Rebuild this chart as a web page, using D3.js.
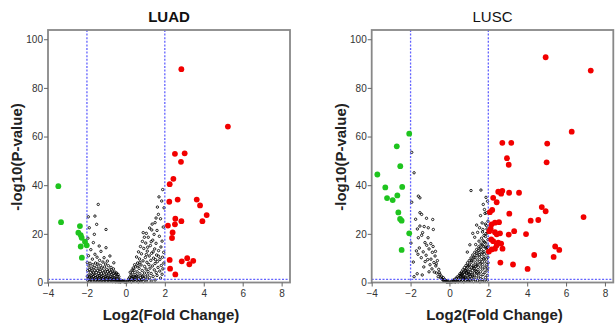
<!DOCTYPE html>
<html>
<head>
<meta charset="utf-8">
<script src="https://cdn.jsdelivr.net/npm/d3@7"></script>
<style>
  body { margin: 0; background: #fff; }
  svg { display: block; font-family: "Liberation Sans", Arial, sans-serif; }
</style>
</head>
<body>
<div id="chart"></div>
<script>
// panel titles and axis ticks
const panels = ['LUAD', 'LUSC'];
const xTicks = [-4, -2, 0, 2, 4, 6, 8];
const yTicks = [0, 20, 40, 60, 80, 100];
const fcCut = [-2, 2];
const pCut = 1.3;

// LUAD: down-regulated (green), up-regulated (red), not significant (black)
const luadDown = [[-3.47, 39.6], [-3.33, 24.8], [-2.36, 23.2], [-2.44, 20.5], [-2.32, 19.5], [-2.27, 18.4],
  [-2.10, 16.8], [-2.01, 15.3], [-2.32, 14.8], [-2.26, 10.2]];
const luadUp = [[2.85, 87.7], [5.24, 64.1], [2.52, 52.9], [3.02, 53.1], [2.83, 49.6], [2.44, 42.6], [2.25, 40.4],
  [2.23, 33.2], [2.66, 34.1], [3.64, 34.1], [3.81, 31.7], [4.15, 27.7], [3.93, 25.2], [2.54, 26.2], [2.85, 25.2],
  [2.52, 23.9], [2.16, 23.4], [2.40, 20.6], [2.37, 18.3], [2.25, 9.3], [2.87, 8.7], [3.15, 10.0], [3.46, 8.9],
  [3.26, 7.5], [2.27, 5.7], [2.54, 3.3]];
const luadNs = [
  [-1.42, 32.1], [-1.93, 27.0], [-1.59, 27.3], [-1.50, 23.9], [-1.02, 21.8], [-1.62, 19.8], [-1.88, 22.5],
  [-1.37, 15.0], [-1.02, 14.3], [-1.67, 16.4], [-1.59, 11.6], [-0.82, 10.9], [-1.95, 18.2], [-1.80, 13.5],
  [-1.28, 12.8], [-1.12, 10.2], [-1.72, 9.6], [-1.48, 10.4], [-0.95, 8.8], [-1.92, 11.0], [-0.62, 8.1], [-1.35, 9.1],
  [-1.98, 8.2], [-1.90, 6.8], [-1.84, 7.9], [-1.78, 5.9], [-1.70, 7.3], [-1.64, 6.1], [-1.56, 8.0], [-1.50, 6.5],
  [-1.44, 7.6], [-1.38, 5.6], [-1.30, 7.0], [-1.24, 6.0], [-1.18, 8.4], [-1.10, 6.4], [-1.04, 7.6], [-0.98, 5.4],
  [-0.90, 6.9], [-0.84, 5.1], [-0.76, 6.2], [-0.70, 4.7], [-0.64, 5.6], [-0.56, 4.3], [-0.48, 3.9], [-0.40, 3.3],
  [-1.96, 4.9], [-1.88, 5.3], [-1.82, 4.2], [-1.74, 4.8], [-1.66, 3.9], [-1.60, 5.0], [-1.52, 4.1], [-1.46, 4.9],
  [-1.40, 3.7], [-1.32, 4.5], [-1.26, 3.6], [-1.20, 4.9], [-1.14, 3.9], [-1.06, 4.7], [-1.00, 3.5], [-0.94, 4.4],
  [-0.86, 3.6], [-0.80, 4.2], [-0.72, 3.2], [-0.66, 3.8], [-0.58, 2.9], [-0.52, 3.4], [-0.44, 2.6], [-0.36, 2.4],
  [-1.98, 2.6], [-1.94, 1.8], [-1.90, 3.1], [-1.86, 2.2], [-1.82, 1.5], [-1.78, 2.8], [-1.74, 1.9], [-1.70, 3.2],
  [-1.66, 2.4], [-1.62, 1.6], [-1.58, 2.9], [-1.54, 2.0], [-1.50, 1.4], [-1.46, 2.6], [-1.42, 1.8], [-1.38, 2.9],
  [-1.34, 2.1], [-1.30, 1.5], [-1.26, 2.5], [-1.22, 1.7], [-1.18, 2.8], [-1.14, 2.0], [-1.10, 1.3], [-1.06, 2.4],
  [-1.02, 1.6], [-0.98, 2.7], [-0.94, 1.9], [-0.90, 1.2], [-0.86, 2.2], [-0.82, 1.5], [-0.78, 2.5], [-0.74, 1.7],
  [-0.70, 1.1], [-0.66, 2.0], [-0.62, 1.3], [-0.58, 1.8], [-0.54, 1.1], [-0.50, 1.6], [-0.46, 0.9], [-0.42, 1.4],
  [-0.38, 0.8], [-0.34, 1.2], [-0.30, 0.6], [-0.26, 0.9], [-0.22, 0.5], [-0.18, 0.7], [-0.14, 0.4], [-0.10, 0.5],
  [-0.06, 0.3], [-0.02, 0.2], [-1.96, 0.9], [-1.88, 0.6], [-1.80, 1.0], [-1.72, 0.7], [-1.64, 1.1], [-1.56, 0.8],
  [-1.48, 0.6], [-1.40, 1.0], [-1.32, 0.7], [-1.24, 0.9], [-1.16, 0.6], [-1.08, 0.8], [-1.00, 0.5], [-0.92, 0.7],
  [-0.84, 0.5], [-0.76, 0.6], [-0.68, 0.4], [-0.60, 0.5], [-0.52, 0.3], [-0.44, 0.4], [-0.36, 0.3], [-0.28, 0.2],
  [1.89, 38.2], [1.96, 30.7], [1.67, 28.0], [1.50, 24.6], [1.33, 21.6], [0.89, 20.5], [1.84, 33.5], [1.78, 26.2],
  [1.92, 22.8], [1.60, 21.4], [1.45, 19.8], [1.72, 19.0], [1.15, 18.6], [1.38, 17.4], [1.86, 17.0], [1.02, 16.2],
  [1.55, 16.1], [1.26, 15.2], [1.80, 14.6], [0.92, 14.0], [1.48, 13.8], [1.68, 13.1], [1.10, 12.9], [1.94, 12.4],
  [1.32, 12.0], [0.80, 11.8], [1.58, 11.3], [1.20, 10.9], [1.88, 10.4], [1.00, 10.3], [1.42, 10.0], [0.70, 9.7],
  [1.75, 9.5], [1.28, 9.1], [0.88, 8.9], [1.62, 8.6], [1.08, 8.3], [1.95, 8.0], [0.60, 8.0], [1.50, 7.8],
  [1.18, 7.4], [0.78, 7.2], [1.82, 7.0], [1.36, 6.8], [0.96, 6.6], [0.50, 6.4], [1.65, 6.2], [1.24, 5.9],
  [0.68, 5.8], [1.90, 5.6], [1.04, 5.5], [1.46, 5.2], [0.42, 5.0], [0.84, 4.9], [1.74, 4.7], [1.14, 4.5],
  [0.58, 4.4], [1.56, 4.1], [0.34, 4.0], [0.96, 3.9], [1.30, 3.7], [0.72, 3.6], [1.86, 3.4], [0.48, 3.3],
  [1.12, 3.1], [0.26, 3.0], [1.60, 2.9], [0.86, 2.8], [0.62, 2.6], [1.40, 2.5], [0.38, 2.4], [1.00, 2.3],
  [0.20, 2.2], [0.76, 2.1], [1.22, 2.0], [0.52, 1.9], [1.78, 1.8], [0.30, 1.7], [0.92, 1.6], [0.14, 1.5],
  [0.66, 1.5], [1.10, 1.4], [0.44, 1.3], [0.24, 1.1], [0.82, 1.1], [1.50, 1.0], [0.56, 0.9], [0.10, 0.8],
  [0.36, 0.8], [0.74, 0.7], [1.04, 0.6], [0.18, 0.5], [0.48, 0.5], [0.64, 0.3], [0.06, 0.3], [0.28, 0.3],
  [0.90, 0.4], [1.30, 0.6], [0.55, 10.5], [0.65, 12.6], [0.75, 14.8], [0.85, 16.9], [0.95, 18.6], [1.05, 20.2],
  [1.22, 22.4], [1.35, 24.0], [1.55, 26.5], [1.62, 31.0], [1.70, 35.2], [1.52, 9.4], [1.68, 10.8], [1.40, 12.6],
  [1.12, 14.5], [1.30, 16.8], [1.05, 11.5], [0.62, 6.9], [0.72, 8.3], [0.45, 7.3], [0.38, 6.0], [0.32, 5.1],
  [0.22, 4.2], [0.40, 1.0], [0.54, 2.7], [0.70, 0.9], [0.84, 2.4], [0.16, 1.0], [0.32, 2.3], [0.46, 2.1]];

// LUSC
const luscDown = [[-2.07, 61.2], [-2.71, 56.0], [-2.53, 47.8], [-3.71, 44.4], [-3.30, 39.1], [-2.43, 39.3],
  [-3.21, 34.7], [-2.92, 33.9], [-2.68, 35.8], [-2.63, 28.8], [-2.54, 26.1], [-2.46, 25.4], [-2.07, 20.2],
  [-2.46, 13.4]];
const luscUp = [[4.95, 92.6], [7.27, 87.1], [6.29, 62.0], [2.72, 57.4], [3.18, 57.4], [5.03, 57.1], [2.96, 51.1],
  [3.05, 48.4], [5.00, 49.4], [2.51, 37.3], [2.72, 37.7], [2.66, 36.5], [3.07, 36.9], [3.58, 36.9], [2.25, 34.8],
  [2.43, 33.0], [2.08, 28.9], [2.20, 29.8], [3.08, 28.3], [4.75, 31.0], [4.95, 29.3], [4.18, 25.4], [4.57, 25.7],
  [6.90, 26.9], [2.34, 24.6], [2.55, 24.8], [2.17, 23.9], [2.12, 22.1], [2.05, 21.1], [2.34, 20.7], [2.60, 20.2],
  [2.43, 19.8], [3.33, 21.1], [3.05, 19.7], [3.94, 19.9], [2.15, 17.7], [2.25, 17.0], [2.51, 16.4], [2.43, 15.3],
  [2.66, 16.0], [2.17, 13.6], [2.03, 12.7], [2.34, 13.9], [2.73, 13.9], [5.44, 14.8], [5.65, 13.4], [5.36, 10.5],
  [4.36, 11.3], [2.62, 8.2], [3.27, 7.4], [4.02, 5.6]];
const luscNs = [
  [-1.94, 53.5], [-1.82, 45.1], [-1.94, 33.0], [-1.60, 35.5], [-1.52, 34.8], [-1.43, 28.0], [-1.52, 28.7],
  [-0.86, 25.9], [-1.09, 22.5], [-1.52, 23.2], [-1.30, 23.0], [-1.60, 18.4], [-1.26, 16.4], [-1.43, 19.4],
  [-0.83, 21.8], [-1.17, 15.3], [-0.74, 10.9], [-1.86, 8.4], [-1.70, 13.0], [-1.55, 14.2], [-1.35, 12.6],
  [-1.20, 11.2], [-1.05, 13.8], [-0.95, 9.6], [-1.45, 10.2], [-1.62, 11.6], [-1.12, 9.4], [-0.88, 12.4],
  [-0.80, 8.2], [-1.00, 7.3], [-1.25, 8.6], [-0.70, 6.8], [-0.62, 9.0], [-0.90, 5.6], [-1.32, 6.4], [-1.82, 2.4],
  [-1.66, 3.6], [-0.55, 5.4], [-0.78, 4.3], [-0.66, 3.9], [-0.49, 3.4], [-0.32, 2.0], [-0.42, 2.6], [-0.58, 2.4],
  [-1.05, 4.4], [-1.40, 3.1], [-0.25, 1.3], [-0.18, 0.8], [-0.10, 0.5], [-0.38, 1.5], [-0.30, 0.9], [-0.22, 0.5],
  [-0.15, 0.3], [-0.05, 0.2], [-1.98, 16.2], [-1.74, 26.0], [-1.65, 22.0], [-1.38, 20.5], [-1.10, 18.4],
  [-0.96, 16.0], [-1.18, 26.4], [-0.72, 12.8], [-0.84, 14.8], [-0.68, 7.7], [-0.52, 4.1], [-0.45, 1.9],
  [-0.35, 1.2], [-0.28, 0.6], [-0.12, 0.2], [0.02, 0.2],
  [1.11, 37.8], [1.62, 38.0], [1.83, 28.4], [1.74, 32.1], [1.55, 22.5], [1.20, 20.2], [1.91, 28.7], [1.96, 33.4],
  [1.80, 30.0], [1.88, 35.0], [1.68, 24.5], [1.45, 20.6], [1.30, 18.6], [1.98, 25.2], [1.60, 27.5], [1.40, 23.6],
  [1.72, 21.8], [1.85, 24.0], [1.05, 15.5], [0.92, 12.5], [1.93, 22.0],
  [0.10, 0.2], [0.12, 0.6], [0.18, 0.3], [0.20, 0.9], [0.24, 0.4], [0.27, 1.3], [0.30, 0.2], [0.32, 0.8],
  [0.35, 1.7], [0.38, 0.5], [0.40, 2.3], [0.42, 1.1], [0.45, 0.3], [0.47, 1.8], [0.50, 2.9], [0.52, 0.7],
  [0.54, 3.6], [0.56, 1.4], [0.58, 2.4], [0.60, 0.4], [0.62, 4.3], [0.63, 3.1], [0.65, 1.9], [0.67, 0.9],
  [0.69, 5.2], [0.70, 2.6], [0.72, 4.0], [0.74, 0.3], [0.75, 1.5], [0.77, 6.1], [0.78, 3.4], [0.80, 4.8],
  [0.81, 2.1], [0.83, 0.8], [0.85, 7.0], [0.86, 5.6], [0.88, 3.9], [0.89, 1.3], [0.91, 2.8], [0.93, 8.1],
  [0.94, 6.4], [0.96, 4.6], [0.97, 0.5], [0.99, 3.3], [1.00, 1.9], [1.02, 9.0], [1.03, 7.2], [1.05, 5.4],
  [1.06, 2.4], [1.08, 0.9], [1.09, 4.1], [1.11, 10.1], [1.12, 8.3], [1.14, 6.1], [1.15, 1.5], [1.17, 3.2],
  [1.18, 4.9], [1.20, 11.3], [1.21, 9.2], [1.23, 7.0], [1.24, 0.4], [1.26, 2.2], [1.27, 5.8], [1.29, 3.9],
  [1.30, 12.4], [1.31, 10.3], [1.33, 8.1], [1.34, 1.1], [1.36, 6.6], [1.37, 4.5], [1.39, 2.8], [1.40, 13.6],
  [1.41, 11.2], [1.43, 9.3], [1.44, 0.7], [1.46, 7.5], [1.47, 5.3], [1.49, 1.8], [1.50, 3.6], [1.51, 14.7],
  [1.53, 12.4], [1.54, 10.4], [1.56, 8.6], [1.57, 0.3], [1.59, 6.4], [1.60, 4.4], [1.61, 2.5], [1.63, 15.8],
  [1.64, 13.5], [1.66, 11.6], [1.67, 9.5], [1.68, 1.2], [1.70, 7.4], [1.71, 5.5], [1.73, 3.3], [1.74, 17.1],
  [1.75, 14.8], [1.77, 12.7], [1.78, 10.6], [1.79, 0.6], [1.81, 8.5], [1.82, 6.3], [1.83, 4.2], [1.85, 2.0],
  [1.86, 18.9], [1.87, 16.2], [1.89, 13.9], [1.90, 11.8], [1.91, 9.6], [1.92, 7.3], [1.94, 5.1], [1.95, 2.9],
  [1.96, 1.0], [1.97, 20.4], [1.98, 17.6], [1.99, 15.0], [1.97, 12.6], [1.98, 10.4], [1.99, 8.1], [1.97, 6.0],
  [0.66, 3.8], [0.84, 5.0], [0.98, 6.9], [1.13, 9.0], [1.25, 10.4], [1.38, 12.0], [1.48, 13.1], [1.58, 14.2],
  [1.69, 15.4], [1.80, 16.6], [1.88, 20.1], [0.73, 2.0], [0.90, 4.3], [1.04, 3.5], [1.19, 2.7], [1.32, 5.1],
  [1.45, 4.0], [1.62, 8.0], [1.76, 9.7], [1.93, 14.4], [0.57, 3.0], [0.82, 1.7], [1.01, 0.9], [1.22, 6.4],
  [1.42, 6.9], [1.55, 11.4], [1.72, 12.2], [1.84, 14.6], [1.35, 15.6], [1.52, 17.0], [1.65, 18.2], [1.78, 19.3],
  [1.90, 23.4], [1.70, 20.8]];

const W = 616, H = 327;
const layout = [
  {name: panels[0], left: 48, right: 290, down: luadDown, up: luadUp, ns: luadNs, titleWeight: 'bold'},
  {name: panels[1], left: 371.7, right: 613.3, down: luscDown, up: luscUp, ns: luscNs, titleWeight: 'normal'},
];
const plotTop = 30, plotBottom = 282.5;

const svg = d3.select('#chart').append('svg')
  .attr('width', W)
  .attr('height', H);

layout.forEach((p) => {
  const x = d3.scaleLinear().domain([-4, 8.43]).range([p.left, p.right]);
  const y = d3.scaleLinear().domain([0, 103.8]).range([plotBottom, plotTop]);
  const g = svg.append('g');

  // non-significant genes
  g.append('g')
    .selectAll('circle')
    .data(p.ns)
    .enter()
    .append('circle')
    .attr('cx', (d) => x(d[0]))
    .attr('cy', (d) => y(d[1]))
    .attr('r', 1.2)
    .style('fill', 'none')
    .style('stroke', '#000')
    .style('stroke-width', 0.85);

  // cut-off lines
  fcCut.forEach((c) => {
    g.append('line')
      .attr('x1', x(c)).attr('x2', x(c))
      .attr('y1', y(103.8)).attr('y2', y(0))
      .style('stroke', '#6262ff')
      .style('stroke-width', 1.3)
      .style('stroke-dasharray', '2,1.6');
  });
  g.append('line')
    .attr('x1', x(-4)).attr('x2', x(8.43))
    .attr('y1', y(pCut)).attr('y2', y(pCut))
    .style('stroke', '#6262ff')
    .style('stroke-width', 1.3)
    .style('stroke-dasharray', '2,1.6');

  g.append('g')
    .selectAll('circle')
    .data(p.down)
    .enter()
    .append('circle')
    .attr('cx', (d) => x(d[0]))
    .attr('cy', (d) => y(d[1]))
    .attr('r', 2.9)
    .style('fill', '#1ec41e');

  g.append('g')
    .selectAll('circle')
    .data(p.up)
    .enter()
    .append('circle')
    .attr('cx', (d) => x(d[0]))
    .attr('cy', (d) => y(d[1]))
    .attr('r', 2.9)
    .style('fill', '#f20000');

  // frame
  g.append('rect')
    .attr('x', p.left)
    .attr('y', plotTop)
    .attr('width', p.right - p.left)
    .attr('height', plotBottom - plotTop)
    .style('fill', 'none')
    .style('stroke', '#888')
    .style('stroke-width', 1.8);

  const xAxis = g.append('g')
    .attr('transform', `translate(0,${plotBottom})`)
    .call(d3.axisBottom(x).tickValues(xTicks).tickSize(4).tickPadding(3));
  const yAxis = g.append('g')
    .attr('transform', `translate(${p.left},0)`)
    .call(d3.axisLeft(y).tickValues(yTicks).tickSize(4).tickPadding(1));
  [xAxis, yAxis].forEach((a) => {
    a.select('.domain').remove();
    a.selectAll('line').style('stroke', '#666');
    a.selectAll('text').style('font-size', '10px').style('fill', '#333');
  });

  const cx = (p.left + p.right) / 2;
  g.append('text')
    .attr('x', cx)
    .attr('y', 22)
    .attr('text-anchor', 'middle')
    .style('font-size', '15px')
    .style('font-weight', p.titleWeight)
    .style('fill', '#111')
    .text(p.name);

  g.append('text')
    .attr('x', cx + 2)
    .attr('y', 320)
    .attr('text-anchor', 'middle')
    .style('font-size', '15px')
    .style('font-weight', 'bold')
    .style('fill', '#222')
    .text('Log2(Fold Change)');

  g.append('text')
    .attr('transform', `translate(${p.left - 26},157) rotate(-90)`)
    .attr('text-anchor', 'middle')
    .style('font-size', '15px')
    .style('font-weight', 'bold')
    .style('fill', '#222')
    .text('-log10(P-value)');
});
</script>
</body>
</html>
